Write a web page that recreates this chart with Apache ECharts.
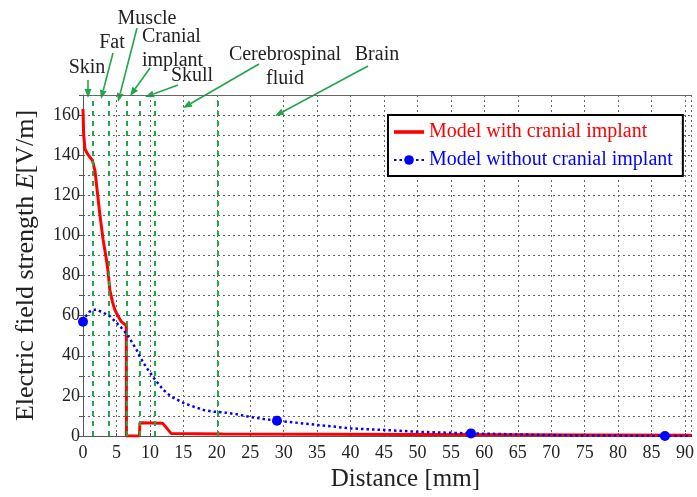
<!DOCTYPE html>
<html>
<head>
<meta charset="utf-8">
<script src="https://cdn.jsdelivr.net/npm/echarts@6/dist/echarts.min.js"></script>
<style>html,body{margin:0;padding:0;background:#fff}#c{width:697px;height:497px}</style>
</head>
<body>
<div id="c"></div>
<script>
// ---- data ----
const withImplantX = [0, 0.1, 0.3, 0.8, 1.4, 1.8, 2.5, 3.0, 3.5, 3.75, 4.0, 4.4, 4.75, 5.2, 5.74, 6.48, 6.5, 8.45, 8.5, 11.9, 13.2, 20.9, 21.0, 91];
const withImplantY = [163, 150, 143, 140, 137.5, 132, 111, 98, 88, 82, 73, 67, 63, 60, 57, 55, 0, 0, 6.6, 6.4, 1.2, 1.0, 0.4, 0.4];
const withoutImplantX = [0, 0.5, 1, 1.5, 2, 3, 4, 5, 6, 6.5, 7, 8, 8.5, 9.5, 10.8, 12, 13.2, 15, 16.6, 18, 19.6, 21, 23, 25, 27, 29, 33.7, 40, 45, 50, 55, 58, 65, 70, 74, 80, 87, 91];
const withoutImplantY = [57, 60, 62, 63, 63, 61.5, 59.8, 56.5, 53, 51, 48.5, 43, 39.5, 34, 28, 23, 19.6, 16.5, 14.6, 13, 12.1, 11.8, 10.8, 9.5, 8.5, 7.6, 6, 3.8, 3, 2.1, 1.6, 1.3, 0.8, 0.5, 0.2, 0.2, 0, 0];
const markerX = [0, 29, 58, 87];
const boundaries = [1.5, 3.9, 6.5, 8.5, 10.8, 20.2];
const seriesNames = ['Model with cranial implant', 'Model without cranial implant'];
const xTicks = [0, 5, 10, 15, 20, 25, 30, 35, 40, 45, 50, 55, 60, 65, 70, 75, 80, 85, 90];
const yTicks = [0, 20, 40, 60, 80, 100, 120, 140, 160];
// annotations: text lines, text anchor, arrow from/to (pixels)
const annotations = [
  {t: ['Skin'], x: 87, y: 68, align: 'center', from: [88, 80], to: [88, 98]},
  {t: ['Fat'], x: 112, y: 43, align: 'center', from: [113, 53], to: [101, 99]},
  {t: ['Muscle'], x: 147, y: 19, align: 'center', from: [137, 28], to: [118, 102]},
  {t: ['Cranial', 'implant'], x: 142, y: 37, align: 'left', from: [150, 68], to: [130, 96]},
  {t: ['Skull'], x: 192, y: 76, align: 'center', from: [178, 85], to: [145, 97]},
  {t: ['Cerebrospinal', 'fluid'], x: 285, y: 55, align: 'center', from: [259, 64], to: [183, 108]},
  {t: ['Brain'], x: 377, y: 55, align: 'center', from: [368, 66], to: [275, 116]}
];

const FONT = '"Liberation Serif", "Times New Roman", serif';
const GREEN = '#1fa84a';

function zip(a, b) { return a.map((v, i) => [v, b[i]]); }

const graphics = [];
annotations.forEach(a => {
  a.t.forEach((line, k) => {
    graphics.push({type: 'text', x: a.x, y: a.y + k * 24,
      style: {text: line, font: '20px ' + FONT, fill: '#222', align: a.align, verticalAlign: 'middle'}});
  });
  const [x1, y1] = a.from, [x2, y2] = a.to;
  const ang = Math.atan2(y2 - y1, x2 - x1);
  const L = 9, W = 3.5;
  const bx = x2 - L * Math.cos(ang), by = y2 - L * Math.sin(ang);
  graphics.push({type: 'line', shape: {x1, y1, x2: bx, y2: by}, style: {stroke: GREEN, lineWidth: 1.6}});
  graphics.push({type: 'polygon', shape: {points: [[x2, y2],
    [bx + W * Math.sin(ang), by - W * Math.cos(ang)],
    [bx - W * Math.sin(ang), by + W * Math.cos(ang)]]}, style: {fill: GREEN}});
});

const chart = echarts.init(document.getElementById('c'));
chart.setOption({
  animation: false,
  backgroundColor: '#fff',
  grid: {left: 83, right: 0, top: 95, bottom: 61},
  legend: {
    orient: 'vertical', left: 388, top: 115,
    padding: [7, 10, 6, 5], itemGap: 8, itemWidth: 30, itemHeight: 12,
    backgroundColor: '#fff', borderColor: '#000', borderWidth: 2,
    textStyle: {fontFamily: FONT, fontSize: 20},
    data: [
      {name: seriesNames[0], icon: 'path://M0,0h30v3.6h-30z', textStyle: {color: '#ff0000'}},
      {name: seriesNames[1], textStyle: {color: '#0000ff'}}
    ]
  },
  xAxis: [{
    type: 'value', min: 0, max: 91, interval: 5,
    name: 'Distance [mm]', nameLocation: 'middle', nameGap: 31,
    nameTextStyle: {fontFamily: FONT, fontSize: 25, color: '#222', padding: [0, 0, 0, 36]},
    axisLine: {lineStyle: {color: '#555', width: 1}},
    axisTick: {show: true, inside: true, length: 3, lineStyle: {color: '#555'}},
    axisLabel: {fontFamily: FONT, fontSize: 18, color: '#222', margin: 8, showMaxLabel: false,
      formatter: v => xTicks.includes(v) ? String(v) : ''},
    splitLine: {show: true, lineStyle: {color: '#666', type: [2, 3], width: 1}}
  }, {
    type: 'value', min: 0, max: 91, position: 'top',
    axisLine: {show: true, onZero: false, lineStyle: {color: '#666', width: 1}},
    axisTick: {show: false}, axisLabel: {show: false}, splitLine: {show: false}
  }],
  yAxis: {
    type: 'value', min: 0, max: 170, interval: 10,
    name: 'Electric field strength {i|E}[V/m]', nameLocation: 'middle', nameGap: 44,
    nameTextStyle: {fontFamily: FONT, fontSize: 26, color: '#222',
      rich: {i: {fontFamily: FONT, fontSize: 26, fontStyle: 'italic', color: '#222'}}},
    axisLine: {show: true, lineStyle: {color: '#555', width: 1}},
    axisTick: {show: true, length: 4, lineStyle: {color: '#555'}},
    axisLabel: {fontFamily: FONT, fontSize: 18, color: '#222', margin: 3,
      formatter: v => yTicks.includes(v) ? String(v) : ''},
    splitLine: {show: true, lineStyle: {color: '#666', type: [2, 3], width: 1}}
  },
  series: [
    {
      name: seriesNames[0], type: 'line', data: zip(withImplantX, withImplantY),
      symbol: 'none', z: 4,
      lineStyle: {color: '#ff0000', width: 3}, itemStyle: {color: '#ff0000'},
      markLine: {
        silent: true, symbol: 'none', label: {show: false},
        lineStyle: {color: GREEN, type: [5, 5], width: 2},
        data: boundaries.map(b => ({xAxis: b}))
      }
    },
    {
      name: seriesNames[1], type: 'line', data: zip(withoutImplantX, withoutImplantY),
      symbol: 'circle', showSymbol: true, z: 5,
      symbolSize: (val) => markerX.includes(val[0]) ? 10 : 0,
      lineStyle: {color: '#0000ff', width: 2.5, type: [2.5, 3]},
      itemStyle: {color: '#0000ff'}
    }
  ],
  graphic: graphics
});
</script>
</body>
</html>
